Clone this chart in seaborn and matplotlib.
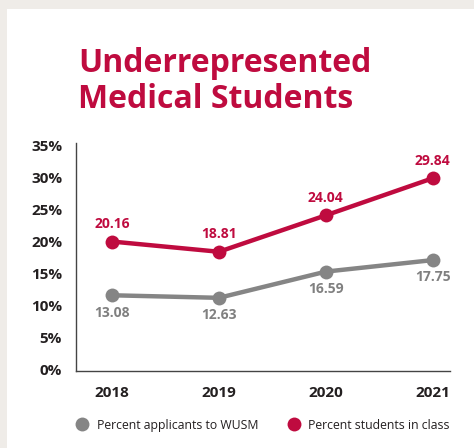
import matplotlib
matplotlib.use("Agg")
import matplotlib.pyplot as plt
from matplotlib.patches import Rectangle
from matplotlib.lines import Line2D
import seaborn as sns
import pandas as pd

years = ["2018", "2019", "2020", "2021"]
applicants = [11.6, 11.2, 15.3, 17.1]
students = [20.0, 18.4, 24.1, 29.9]
applicant_labels = ["13.08", "12.63", "16.59", "17.75"]
student_labels = ["20.16", "18.81", "24.04", "29.84"]
series_names = ["Percent applicants to WUSM", "Percent students in class"]
yticks = [0, 5, 10, 15, 20, 25, 30, 35]

RED = "#bf0b3f"
GRAY = "#858585"
DARK = "#231f20"

sns.set_theme(style="white")
plt.rcParams["font.family"] = ["Open Sans", "DejaVu Sans"]

df = pd.DataFrame({
    "year": years * 2,
    "value": applicants + students,
    "series": [series_names[0]] * 4 + [series_names[1]] * 4,
})

fig = plt.figure(figsize=(4.74, 4.48), dpi=100)
fig.patch.set_facecolor("#efece8")
bg = Rectangle((7 / 474, 0), 1, (448 - 9) / 448,
               transform=fig.transFigure, facecolor="white",
               edgecolor="none", zorder=-10)
fig.patches.append(bg)

ax = fig.add_axes([76 / 474, (448 - 370.7) / 448, (450 - 76) / 474, (370.7 - 143) / 448])
ax.set_facecolor("none")

sns.lineplot(data=df, x="year", y="value", hue="series",
             palette={series_names[0]: GRAY, series_names[1]: RED},
             marker="o", markersize=10, markeredgewidth=0, linewidth=3.2,
             legend=False, ax=ax)

ax.set_xlim(-0.336, 3.16)
ax.set_ylim(-0.19, 35.4)
ax.set_yticks(yticks)
ax.set_yticklabels([f"{t}%" for t in yticks])
ax.set_xlabel("")
ax.set_ylabel("")
for s in ["top", "right"]:
    ax.spines[s].set_visible(False)
for s in ["left", "bottom"]:
    ax.spines[s].set_color("#444444")
    ax.spines[s].set_linewidth(1.0)
ax.tick_params(axis="both", length=0, colors=DARK)
ax.tick_params(axis="y", pad=10)
ax.tick_params(axis="x", pad=11)
for lab in ax.get_yticklabels() + ax.get_xticklabels():
    lab.set_fontweight("bold")
    lab.set_fontsize(11)
    lab.set_color(DARK)

for i, (v, t) in enumerate(zip(students, student_labels)):
    ax.annotate(t, (i, v), xytext=(0, 12.5), textcoords="offset points",
                ha="center", va="center", fontsize=10, fontweight="bold", color=RED)
for i, (v, t) in enumerate(zip(applicants, applicant_labels)):
    ax.annotate(t, (i, v), xytext=(0, -12.5), textcoords="offset points",
                ha="center", va="center", fontsize=10, fontweight="bold", color="#808080")

fig.text(78 / 474, (448 - 72) / 448, "Underrepresented", fontsize=23,
         fontweight="bold", color=RED, va="baseline", ha="left")
fig.text(78 / 474, (448 - 108) / 448, "Medical Students", fontsize=23,
         fontweight="bold", color=RED, va="baseline", ha="left")

handles = [Line2D([], [], marker="o", linestyle="none", markersize=10,
                  markeredgewidth=0, color=c) for c in (GRAY, RED)]
fig.legend(handles, series_names, loc="center", bbox_to_anchor=(0.548, (448 - 425) / 448),
           ncol=2, frameon=False, fontsize=8.8, handletextpad=0.2, columnspacing=1.9,
           labelcolor=DARK)

fig.savefig("out.png", dpi=100)
